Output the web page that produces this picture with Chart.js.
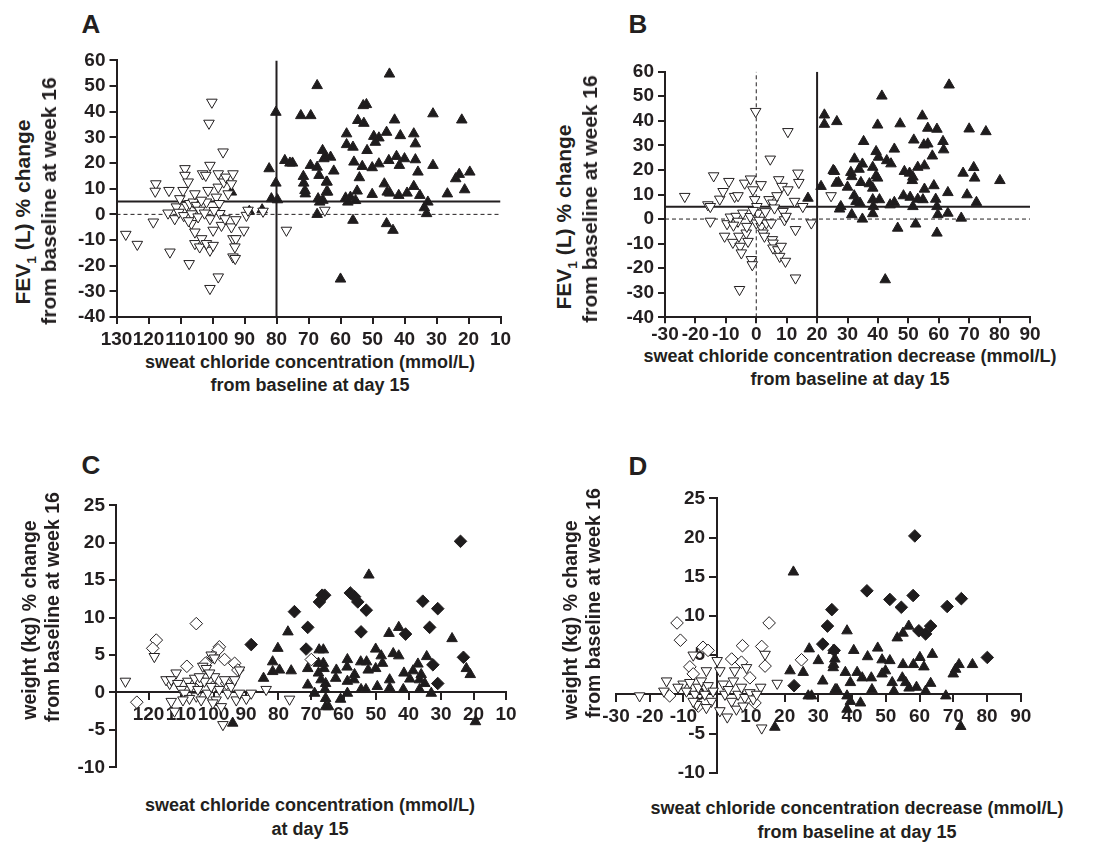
<!DOCTYPE html>
<html>
<head>
<meta charset="utf-8">
<script src="https://cdn.jsdelivr.net/npm/chart.js@4.4.0/dist/chart.umd.min.js"></script>
<style>
  body { margin: 0; background: #fff; }
  #wrap { position: relative; width: 1099px; height: 843px; background: #fff; overflow: hidden; }
  canvas { position: absolute; }
  .t { position: absolute; font: bold 18px "Liberation Sans", Arial, sans-serif; color: #231f20;
       white-space: nowrap; transform: translate(-50%, -50%); }
  .r { transform: translate(-50%, -50%) rotate(-90deg); }
  .fev { font-size: 21px; }
  .wt { font-size: 19.5px; }
  .big { font-size: 26px; }
  .t sub { font-size: 0.65em; }
</style>
</head>
<body>
<div id="wrap">
  <canvas id="chartA"></canvas>
  <canvas id="chartB"></canvas>
  <canvas id="chartC"></canvas>
  <canvas id="chartD"></canvas>

  <div class="t big" style="left:91px;top:24px">A</div>
  <div class="t big" style="left:638px;top:24px">B</div>
  <div class="t big" style="left:91px;top:465px">C</div>
  <div class="t big" style="left:638px;top:466px">D</div>

  <div class="t r fev" style="left:25px;top:212px">FEV<sub>1</sub> (L) % change</div>
  <div class="t r fev" style="left:49px;top:201px">from baseline at week 16</div>
  <div class="t" style="left:310px;top:362px">sweat chloride concentration (mmol/L)</div>
  <div class="t" style="left:310px;top:385px">from baseline at day 15</div>

  <div class="t r fev" style="left:566px;top:217px">FEV<sub>1</sub> (L) % change</div>
  <div class="t r fev" style="left:590px;top:199px">from baseline at week 16</div>
  <div class="t" style="left:850px;top:356px">sweat chloride concentration decrease (mmol/L)</div>
  <div class="t" style="left:850px;top:379px">from baseline at day 15</div>

  <div class="t r wt" style="left:29px;top:620px">weight (kg) % change</div>
  <div class="t r wt" style="left:52px;top:607px">from baseline at week 16</div>
  <div class="t" style="left:310px;top:805px">sweat chloride concentration (mmol/L)</div>
  <div class="t" style="left:310px;top:829px">at day 15</div>

  <div class="t r wt" style="left:570px;top:620px">weight (kg) % change</div>
  <div class="t r wt" style="left:593px;top:603px">from baseline at week 16</div>
  <div class="t" style="left:857px;top:808px">sweat chloride concentration decrease (mmol/L)</div>
  <div class="t" style="left:857px;top:832px">from baseline at day 15</div>
</div>

<script>
// ---- data ----

// A: FEV1 change vs sweat chloride at day 15
const aNonResp = [[127.1,-7.8],[123.5,-11.7],[118.5,-3],[117.7,11.9],[117.9,9],[113.6,9.3],[113.3,-14.7],[113.9,0.5],
  [111.8,-1.7],[111.3,2.9],[110.2,6.1],[109.2,9.3],[108.6,17.8],[108.6,15.2],[107.6,12.6],[107.3,-19.2],[108.1,3.5],
  [107.1,4.2],[106,4.8],[105.5,8],[105,3.5],[106.6,-3.6],[105.5,-6.9],[105.5,-11.4],[104,-12.7],[103.4,-9.5],[104,1.6],
  [103.1,15.8],[102.1,15.2],[101.9,4.8],[101.4,9.3],[100.8,19.1],[100.2,43.7],[101.1,35.5],[100.8,-14],[101.9,-11.4],
  [99.8,-12.1],[99.8,-6.2],[100.8,-1.7],[100.8,-28.9],[98.2,-24.4],[98.8,6.7],[98.2,10.6],[98.2,15.8],[97.9,4.2],
  [97.7,0.3],[97.2,-4.3],[96.7,24.3],[96.5,12.6],[95.8,14.5],[96.1,-1.7],[95.1,8],[94.1,11.9],[93.6,15.8],[94.1,-4.9],
  [93.6,-9.5],[92.7,-9.5],[93,-12.7],[93.6,-16.6],[92.9,-17.2],[92.7,-2.1],[90.2,-6.2],[89.4,-0.4],[88.9,1.6],
  [84.2,1.2],[76.9,-6.2],[64.9,1.6],[110.5,0.8],[109,-0.5],[106.5,0.2],[104.5,-1],[102.5,0.5],[99.5,1.5],[103.5,5.5],
  [107.5,-2.5]];
const aResp = [[94.1,8.7],[88.5,1.2],[84.5,1.8],[82.3,17.8],[80.2,39.8],[80.2,12.2],[81.6,6.1],[79.7,5.7],[72.4,38.5],
  [69.3,38.5],[67.3,50.2],[77.4,21],[75.8,20],[75,20],[71.6,14.8],[71.5,12.2],[71.1,9.3],[71,8],[69.4,19.1],[67.3,18.4],
  [66.7,15.2],[65.6,24.9],[65.2,21.7],[67,6.1],[66.5,4.8],[67.3,0],[64.4,12.6],[64.4,8.7],
  [44.7,54.7],[52.9,42.4],[51.9,42.8],[54.6,36.6],[52.7,35.5],[43.1,36.8],[31.1,39.2],[22.1,36.8],[58.1,31.4],
  [58.1,27.2],[56.1,26.2],[51.7,24.9],[49.6,30.4],[48,29.8],[49.1,28.1],[45.6,32],[41.3,30.7],[37.1,31.4],[36.6,27.5],
  [64.7,22.6],[63.1,22.3],[62.1,16.9],[55.8,20.4],[53.2,18.7],[50.1,18.2],[48,19.7],[44.9,21],[42.5,22.6],[41.6,19.1],
  [40,21.7],[36.6,21.3],[35.8,16.5],[31.1,19.1],[54.1,14.3],[64.2,12.6],[64,8.7],[46.3,11.9],[45.4,8.7],[44.6,8.3],
  [41.8,7.4],[39.2,8.3],[37.1,10.9],[35.2,7.4],[50.1,7.8],[54.8,9.1],[58.4,6.4],[56.9,6.7],[55.3,5.4],[57.7,4.8],
  [32.7,4.8],[33.8,2.6],[33.1,0.3],[26.6,8],[24,13.9],[22.9,15.6],[19.6,16.5],[21.2,9.6],[56.1,-2.3],[45.6,-3.6],
  [43.6,-6.2],[60,-25.2],[65.5,5.5]];
const aCutX = 80;     // vertical solid line
const aCutY = 5;      // horizontal solid line

// B: FEV1 change vs sweat chloride decrease
const bNonResp = [[-23.5,9.2],[-15.9,5.8],[-15.1,5.1],[-15.1,-0.9],[-14,17.6],[-12,8.1],[-10.9,11.2],[-9,15.3],
  [-10.4,-7],[-9.6,-1.9],[-8.5,0.8],[-7.7,-9.5],[-7.1,9.2],[-6,9.5],[-6.6,1.1],[-6,-0.9],[-5.5,-28.7],[-5.7,-7],
  [-5.3,-11.1],[-4.9,-13.8],[-4.4,2.4],[-3.8,14.6],[-3.3,-5.7],[-3.1,-3],[-2.7,-9.1],[-1.9,16.3],[-1.1,11.9],
  [-1.6,-16.5],[-1.3,-18.6],[-0.5,7.9],[-0.2,43.8],[0.2,5.1],[0.5,2.4],[0,-1.6],[1.6,14],[1.6,-3],[2.2,-5.7],[2.7,-7],
  [3.3,-1.6],[4.2,7.9],[4.6,24.4],[4.9,-1.6],[5.3,-8.4],[5.5,-9.8],[5.5,6.5],[6.8,9.5],[6,4.5],[7.4,16],[5.5,-11.8],
  [7.1,-12.5],[7.7,-15.2],[8.5,13.3],[8.8,3.1],[9.3,-0.3],[9.8,1.1],[10.4,35.6],[10.4,11.9],[8.2,-11.1],[9.6,-17.2],
  [12.6,7.2],[13.7,18.7],[14,14.9],[12.9,-4.3],[12.9,-24],[15.3,5.1],[18.1,-1.6],[24.6,9.5],[-7.5,-2.5],[-2,1],
  [1,-0.5],[3,3],[-1,3.5]];
const bResp = [[17,8.5],[21.3,13.3],[22.4,42.4],[22.4,38.6],[26.5,39.7],[25.7,19.4],[26.3,14.6],[27.4,4.1],
  [63.4,54.6],[41.3,50.1],[39.9,38.3],[47.3,38.8],[54.6,42],[56.4,37],[59.4,36.6],[70,36.7],[75.5,35.6],[35.3,31.6],
  [39.4,27.5],[40.2,25.2],[45.4,28.5],[42.9,23.8],[44.3,22.5],[51.8,32.2],[55.1,30.2],[56.4,30.6],[61.4,31.6],
  [61.6,28.2],[57.9,25.7],[32.3,24.5],[34.9,22.4],[33.8,20.3],[31.1,19],[31.4,17.3],[25.3,19.8],[38.3,21.1],
  [39.4,17.6],[39.9,16.7],[48.7,19.4],[50.4,18.7],[51.5,17.1],[53.1,21.1],[55.3,21.7],[51.3,15.7],[68,18.7],[71.5,21],
  [71.8,16.7],[80.1,15.7],[27,14.9],[30,13],[34.4,14.9],[37.2,14.4],[38.3,12.6],[32.2,9.5],[32.8,7.2],[34.1,6.5],
  [27.8,5.1],[38.3,7.9],[38.5,5.1],[40.5,7.9],[44,5.8],[45.4,6.8],[48.4,9.5],[50.6,8.9],[51.5,5.1],[53.1,8.1],
  [54.8,7.9],[55.3,12.2],[58.4,13.6],[59,8.1],[59.4,5.1],[63,10.8],[69.3,9.9],[72.4,6.8],[31.4,1.8],[34.9,0],
  [38.3,2.2],[59.7,1.8],[63,2.4],[67.4,0.4],[46.5,-3.7],[52.4,-2],[59.4,-5.7],[42.4,-24.7]];
const bCutX = 20;
const bCutY = 5;

// C: weight change vs sweat chloride at day 15
const cOpenDiam = [[123.6,-1.3],[117.6,7],[118.7,5.9],[108.2,3.5],[105.3,9.2],[102.5,3.9],[98.2,6.1],[98.6,5.7],
  [96.6,4.4],[93.5,3.9],[100.2,4.8],[69.9,4.4],[92.5,3],[104,1.5],[100,0.8],[96,1.2]];
const cOpenTri = [[127.1,1.5],[118.2,4.8],[113.5,1.2],[113,-1.2],[111.5,2.6],[112,-2.5],[105.3,-0.5],[103.3,3.5],
  [102.2,3.2],[100.7,5],[99.7,4.6],[97.1,-4.3],[92,3],[89.9,-0.8],[88.4,-0.1],[83.8,0.4],[76.6,-0.9],
  [114.6,1.7],[113,1.7],[111,1.2],[109.9,0.4],[108.9,-0.1],[107.9,1.5],[106.9,0.8],[105.8,1.9],[104.8,0.4],
  [103.8,-1],[102.8,1.5],[101.8,-0.1],[100.7,0.8],[99.7,2.1],[99.2,-1],[98.2,0.4],[96.6,1.7],[95.6,-0.1],[94.6,0.8],
  [93.5,1.7],[93,-1],[92,-0.1],[104.3,2.1],[101.2,2.6],[107.4,-0.8],[109.4,-1],[97.6,-1.9],[100.2,-1.4]];
const cFillTri = [[94.1,-4.1],[84.6,1.9],[81.8,4.1],[81.8,2.8],[80.2,5.9],[79.7,3],[77.1,8.1],[76.1,2.9],[71,3.2],
  [71,1],[68.9,-0.1],[67.7,3.9],[67.7,2.6],[67.5,5.7],[66.9,1.7],[64.6,-1.9],
  [52.2,15.7],[46,7.9],[43,8.7],[26.6,7.2],[22.2,3.2],[21,2.4],[19.4,-3.9],[66.2,5.7],[66.2,3.9],[66,3.2],[62.2,3],
  [62.4,1.9],[65.5,1.2],[65.7,0.4],[65.5,-0.8],[65.5,-1.9],[60.9,-0.9],[58.8,4.4],[58.9,3.4],[58.8,1.5],[58.8,-0.1],
  [56.8,1.7],[56.6,2.4],[54.7,4.1],[54.6,0.4],[53.1,0.4],[52.9,4.1],[52.4,3],[50.1,5.8],[50.1,3.2],[49.6,0.8],
  [48.4,4.9],[48,3.9],[45.8,1.7],[45.8,0.6],[44.7,5.2],[43,4.9],[41.6,0.4],[41.4,2.6],[38.6,2.9],[39.6,1.8],
  [37.1,3.8],[36.6,1.7],[36.1,2.4],[36.6,0.4],[34.4,4.8],[33,-0.1],[35,1.2]];
const cFillDiam = [[88.4,6.4],[75.1,10.8],[71,8.7],[71.5,5.8],[67.4,12.1],[66.6,13],[24,20.2],[65.8,13],[57.9,13.3],
  [56.6,12.8],[55.6,12.1],[53,11],[54.6,8.1],[35.6,12.2],[31,11.2],[33.5,8.7],[40.9,7.8],[32.5,3.7],[23.1,4.7],
  [31,1.2]];

// D: weight change vs sweat chloride decrease
const dOpenDiam = [[-11.9,9.1],[-10.9,6.9],[-4.2,6],[-2.7,5.6],[-8.1,3.5],[-7.1,2.6],[4.3,4.5],[7.2,4.1],[7.5,6.2],
  [9.7,2.1],[13.2,6.1],[14.2,3.6],[15.4,9.1],[25,4.4],[-14.1,-0.2],[-5.6,-1.5],[11.2,-1.1]];
const dOpenTri = [[-23,-0.2],[-15.8,0.4],[-15,1.7],[-7.1,5],[-10.1,1.3],[-3.2,3],[0,4.3],[0.8,3],[3,-2.9],[0.8,-2.1],
  [13.2,-4.3],[12.9,0.9],[17.8,1.4],[14.2,5.1],[8.7,3.4],[5.2,3],
  [-11.6,0.9],[-9.1,0.4],[-8.1,1.5],[-6.6,0],[-5.6,0.9],[-4.7,1.7],[-3.7,0],[-2.7,1.1],[-1.7,-0.9],[-1.2,0.4],
  [1.8,1.3],[2.3,0],[3.3,0.6],[4.3,-0.9],[4.8,1.7],[6.2,0],[7.2,0.9],[8.2,-0.4],[9.7,0.2],[10.7,-0.6],[11.7,0],
  [-6.1,-1.3],[-3.2,-1.7],[5.7,-1.9],[7.7,-1.5],[-7.1,-0.9]];
const dFillTri = [[22.6,15.6],[27.3,5.8],[30,4.3],[21.6,3],[25.5,2.8],[27,-0.2],[28,-0.2],[17.1,-4.2],[31.3,1.7],
  [35,0.6],[34.5,3.8],
  [38.5,8.1],[53.4,7.2],[55.1,7.8],[56.8,8.7],[40.5,5.6],[47.6,5.9],[44.6,4.8],[48.9,4.4],[51.2,4.3],[55.1,3.8],
  [60.1,4.7],[61.3,3.5],[63.8,5.1],[58.2,3.8],[71.7,3.8],[70.7,3.2],[70,2.6],[75.7,3.8],[34.4,5.6],[34.9,4.5],
  [34.4,3.4],[38,2.8],[39.5,1.5],[41.5,2.8],[43,2.1],[45.7,2.1],[48.9,2.6],[49.9,3],[51.9,1.5],[52.4,0.4],[54.9,2.1],
  [55.9,1.5],[56.9,0.8],[59.1,0.9],[61.8,0.4],[63.3,1.4],[35.5,0.6],[38.5,-0.2],[39.5,-0.9],[38.5,-1.9],[42.5,-1.1],
  [45.9,0.6],[67.8,-0.2],[72.2,-4.1]];
const dFillDiam = [[34,10.8],[32.7,8.7],[31.3,6.4],[34.7,5.6],[22.8,1.1],[58.6,20.2],[44.4,13.2],[51.2,12.1],
  [54.6,11.1],[58.1,12.6],[68.2,11.2],[72.4,12.2],[59.8,8.1],[61.8,7.7],[63.3,8.7],[80.1,4.7]];

// ---- drawing ----
const INK = '#231f20';
const TICK_FONT = 'bold 19px "Liberation Sans", Arial, sans-serif';
Chart.defaults.font.family = '"Liberation Sans", Arial, sans-serif';
Chart.defaults.font.weight = 'bold';
Chart.defaults.font.size = 19;
Chart.defaults.color = INK;

function toPoints(pairs) {
  return pairs.map(p => ({ x: p[0], y: p[1] }));
}

function markers(pairs, style, filled, rot) {
  return {
    data: toPoints(pairs),
    pointStyle: style,
    rotation: rot || 0,
    pointRadius: style === 'rectRot' ? 6.3 : 6.1,
    backgroundColor: filled ? '#1e1c1d' : '#fff',
    borderColor: INK,
    borderWidth: 1,
    order: 1
  };
}

function refLine(pairs, dashed) {
  return {
    data: toPoints(pairs),
    showLine: true,
    pointRadius: 0,
    borderColor: INK,
    borderWidth: dashed ? 1 : 2,
    borderDash: dashed ? [4, 3] : [],
    order: 2
  };
}

function axis(min, max, step, more) {
  let a = {
    type: 'linear', min: min, max: max,
    ticks: { stepSize: step, autoSkip: false, maxRotation: 0, minRotation: 0, padding: 4 },
    grid: { drawOnChartArea: false, drawTicks: true, tickLength: 7, color: INK, lineWidth: 2 },
    border: { display: true, color: INK, width: 2 }
  };
  return Object.assign(a, more);
}

// y labels for an axis that sits at x = 0 (chart.js puts them right on the line)
const yLabelsAtZero = {
  id: 'yLabelsAtZero',
  beforeDatasetsDraw(chart) {
    const ys = chart.scales.y;
    const x0 = chart.scales.x.getPixelForValue(0);
    const ctx = chart.ctx;
    ctx.save();
    ctx.font = TICK_FONT;
    ctx.fillStyle = INK;
    ctx.textAlign = 'right';
    ctx.textBaseline = 'middle';
    ys.ticks.forEach(t => ctx.fillText(String(t.value), x0 - 12, ys.getPixelForValue(t.value)));
    ctx.restore();
  }
};

// box = canvas rectangle on the page, area = wanted plot area
function makeChart(id, box, area, datasets, xAxis, yAxis, plugins) {
  const cv = document.getElementById(id);
  cv.width = box.r - box.l;
  cv.height = box.b - box.t;
  cv.style.left = box.l + 'px';
  cv.style.top = box.t + 'px';
  const leftFixed = yAxis.position === 'left';
  const bottomFixed = xAxis.position === 'bottom';
  if (leftFixed) yAxis.afterFit = s => { s.width = area.l - box.l; };
  if (bottomFixed) xAxis.afterFit = s => { s.height = box.b - area.b; };
  return new Chart(cv, {
    type: 'scatter',
    data: { datasets: datasets },
    plugins: plugins || [],
    options: {
      responsive: false,
      animation: false,
      devicePixelRatio: 1,
      events: [],
      layout: { padding: {
        left: leftFixed ? 0 : area.l - box.l,
        top: area.t - box.t,
        right: box.r - area.r,
        bottom: bottomFixed ? 0 : box.b - area.b
      } },
      plugins: { legend: { display: false }, tooltip: { enabled: false } },
      scales: { x: xAxis, y: yAxis }
    }
  });
}

// panel A
makeChart('chartA', { l: 40, t: 45, r: 530, b: 345 }, { l: 116.5, t: 59.5, r: 500.5, b: 317 }, [
  markers(aNonResp, 'triangle', false, 180),
  markers(aResp, 'triangle', true),
  refLine([[aCutX, -40], [aCutX, 60]], false),
  refLine([[130, aCutY], [10, aCutY]], false),
  refLine([[130, 0], [10, 0]], true)
], axis(10, 130, 10, { reverse: true, position: 'bottom' }),
   axis(-40, 60, 10, { position: 'left' }));

// panel B
let bx = axis(-30, 90, 10, { position: 'bottom' });
bx.ticks.padding = 0;
bx.grid.tickLength = 6;
makeChart('chartB', { l: 600, t: 55, r: 1060, b: 345 }, { l: 665, t: 71.7, r: 1030, b: 317.3 }, [
  markers(bNonResp, 'triangle', false, 180),
  markers(bResp, 'triangle', true),
  refLine([[bCutX, -40], [bCutX, 60]], false),
  refLine([[0, -40], [0, 60]], true),
  refLine([[-30, bCutY], [90, bCutY]], false),
  refLine([[-30, 0], [90, 0]], true)
], bx, axis(-40, 60, 10, { position: 'left' }));

// panel C
let cx = axis(10, 130, 10, { reverse: true, position: { y: 0 } });
cx.ticks.callback = v => (v === 130 ? '' : v);
makeChart('chartC', { l: 40, t: 490, r: 540, b: 790 }, { l: 116, t: 505, r: 506, b: 767.3 }, [
  markers(cOpenTri, 'triangle', false, 180),
  markers(cOpenDiam, 'rectRot', false),
  markers(cFillTri, 'triangle', true),
  markers(cFillDiam, 'rectRot', true)
], cx, axis(-10, 25, 5, { position: 'left' }));

// panel D
let dx = axis(-30, 90, 10, { position: { y: 0 } });
dx.ticks.callback = v => (v === 0 ? '' : v);
let dy = axis(-10, 25, 5, { position: { x: 0 } });
dy.ticks.display = false;
makeChart('chartD', { l: 560, t: 485, r: 1060, b: 790 }, { l: 616, t: 498.3, r: 1020.7, b: 772.7 }, [
  markers(dOpenTri, 'triangle', false, 180),
  markers(dOpenDiam, 'rectRot', false),
  markers(dFillTri, 'triangle', true),
  markers(dFillDiam, 'rectRot', true)
], dx, dy, [yLabelsAtZero]);
</script>
</body>
</html>
